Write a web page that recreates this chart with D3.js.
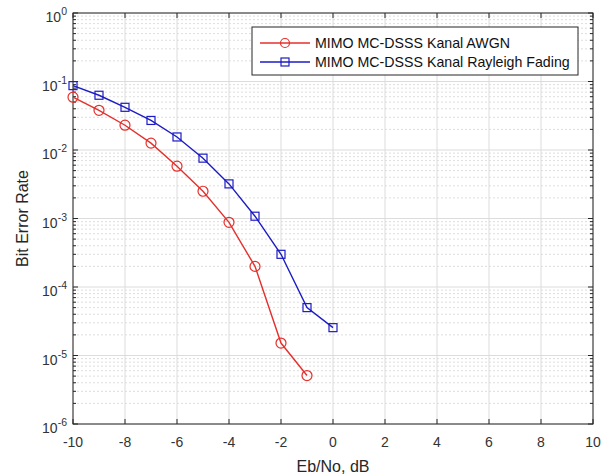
<!DOCTYPE html>
<html>
<head>
<meta charset="utf-8">
<script src="https://cdn.jsdelivr.net/npm/d3@7"></script>
<style>
  body { margin: 0; background: #fff; }
  text { font-family: "Liberation Sans", Arial, sans-serif; }
</style>
</head>
<body>
<svg id="chart" width="610" height="474"></svg>
<script>
// data
var ebnoAwgn = [-10, -9, -8, -7, -6, -5, -4, -3, -2, -1];
var berAwgn = [0.059, 0.038, 0.023, 0.0126, 0.0058, 0.0025, 0.00088, 0.0002, 0.0000152, 0.0000051];
var ebnoRayleigh = [-10, -9, -8, -7, -6, -5, -4, -3, -2, -1, 0];
var berRayleigh = [0.087, 0.063, 0.042, 0.027, 0.0155, 0.0076, 0.0032, 0.00108, 0.0003, 0.00005, 0.0000255];
var xTicks = [-10, -8, -6, -4, -2, 0, 2, 4, 6, 8, 10];
var yDecades = [0, -1, -2, -3, -4, -5, -6];
var legendLabels = ["MIMO MC-DSSS Kanal AWGN", "MIMO MC-DSSS Kanal Rayleigh Fading"];

var red = "#e4302c", blue = "#1c1cc4";
// note: "top" is taken by window.top, so plot edges get their own names
var pL = 73, pR = 593, pT = 13, pB = 424;

var svg = d3.select("#chart");

var x = d3.scaleLinear().domain([-10, 10]).range([pL, pR]);
var y = d3.scaleLog().domain([1e-6, 1]).range([pB, pT]);

// minor values inside each decade
var minors = [];
yDecades.slice(1).forEach(function(p) {
    for (var k = 2; k <= 9; k++) minors.push(k * Math.pow(10, p));
});

// grid
var grid = svg.append("g");
grid.selectAll(".minor").data(minors).enter().append("line")
    .attr("x1", pL).attr("x2", pR)
    .attr("y1", function(d) { return y(d); })
    .attr("y2", function(d) { return y(d); })
    .attr("stroke", "#d4d4d4").attr("stroke-width", 0.8)
    .attr("stroke-dasharray", "2,2");
grid.selectAll(".ymaj").data(yDecades).enter().append("line")
    .attr("x1", pL).attr("x2", pR)
    .attr("y1", function(d) { return y(Math.pow(10, d)); })
    .attr("y2", function(d) { return y(Math.pow(10, d)); })
    .attr("stroke", "#dcdcdc").attr("stroke-width", 1);
grid.selectAll(".xmaj").data(xTicks).enter().append("line")
    .attr("y1", pT).attr("y2", pB)
    .attr("x1", function(d) { return x(d); })
    .attr("x2", function(d) { return x(d); })
    .attr("stroke", "#dcdcdc").attr("stroke-width", 1);

// box + inner ticks
var axisColor = "#262626";
svg.append("rect").attr("x", pL).attr("y", pT)
    .attr("width", pR - pL).attr("height", pB - pT)
    .attr("fill", "none").attr("stroke", axisColor).attr("stroke-width", 1);

var ticks = svg.append("g").attr("stroke", axisColor).attr("stroke-width", 1);
xTicks.forEach(function(d) {
    ticks.append("line").attr("x1", x(d)).attr("x2", x(d)).attr("y1", pB).attr("y2", pB - 5);
    ticks.append("line").attr("x1", x(d)).attr("x2", x(d)).attr("y1", pT).attr("y2", pT + 5);
});
yDecades.forEach(function(p) {
    var yy = y(Math.pow(10, p));
    ticks.append("line").attr("x1", pL).attr("x2", pL + 5).attr("y1", yy).attr("y2", yy);
    ticks.append("line").attr("x1", pR).attr("x2", pR - 5).attr("y1", yy).attr("y2", yy);
});
minors.forEach(function(d) {
    ticks.append("line").attr("x1", pL).attr("x2", pL + 3).attr("y1", y(d)).attr("y2", y(d));
    ticks.append("line").attr("x1", pR).attr("x2", pR - 3).attr("y1", y(d)).attr("y2", y(d));
});

// tick labels
svg.append("g").selectAll("text").data(xTicks).enter().append("text")
    .attr("x", function(d) { return x(d); })
    .attr("y", pB + 23)
    .attr("text-anchor", "middle")
    .attr("font-size", 14).attr("fill", "#333")
    .text(function(d) { return d; });

var yl = svg.append("g").selectAll("text").data(yDecades).enter().append("text")
    .attr("x", pL - 6)
    .attr("y", function(d) { return y(Math.pow(10, d)) + 9; })
    .attr("text-anchor", "end")
    .attr("font-size", 14).attr("fill", "#333");
yl.append("tspan").text("10");
yl.append("tspan").attr("dy", -7).attr("font-size", 10.5).text(function(d) { return d; });

// axis titles
svg.append("text").attr("x", (pL + pR) / 2).attr("y", 472)
    .attr("text-anchor", "middle").attr("font-size", 16).attr("fill", "#262626")
    .text("Eb/No, dB");
svg.append("text")
    .attr("transform", "translate(28," + ((pT + pB) / 2) + ") rotate(-90)")
    .attr("text-anchor", "middle").attr("font-size", 16).attr("fill", "#262626")
    .text("Bit Error Rate");

// series
var line = d3.line()
    .x(function(d) { return x(d[0]); })
    .y(function(d) { return y(d[1]); });

var awgn = d3.zip(ebnoAwgn, berAwgn);
var rayleigh = d3.zip(ebnoRayleigh, berRayleigh);

svg.append("path").datum(awgn).attr("d", line)
    .attr("fill", "none").attr("stroke", red).attr("stroke-width", 1.4);
svg.append("g").selectAll("circle").data(awgn).enter().append("circle")
    .attr("cx", function(d) { return x(d[0]); })
    .attr("cy", function(d) { return y(d[1]); })
    .attr("r", 5).attr("fill", "none").attr("stroke", red).attr("stroke-width", 1.2);

svg.append("path").datum(rayleigh).attr("d", line)
    .attr("fill", "none").attr("stroke", blue).attr("stroke-width", 1.4);
svg.append("g").selectAll("rect").data(rayleigh).enter().append("rect")
    .attr("x", function(d) { return x(d[0]) - 4; })
    .attr("y", function(d) { return y(d[1]) - 4; })
    .attr("width", 8).attr("height", 8)
    .attr("fill", "none").attr("stroke", blue).attr("stroke-width", 1.2);

// legend
var lg = svg.append("g");
lg.append("rect").attr("x", 252).attr("y", 27).attr("width", 326).attr("height", 48)
    .attr("fill", "#fff").attr("stroke", axisColor).attr("stroke-width", 1);
[red, blue].forEach(function(c, i) {
    var ly = 43 + i * 19;
    lg.append("line").attr("x1", 260).attr("x2", 310).attr("y1", ly).attr("y2", ly)
        .attr("stroke", c).attr("stroke-width", 1.4);
    if (i == 0) {
        lg.append("circle").attr("cx", 285).attr("cy", ly).attr("r", 4.5)
            .attr("fill", "none").attr("stroke", c).attr("stroke-width", 1.2);
    } else {
        lg.append("rect").attr("x", 281).attr("y", ly - 4).attr("width", 8).attr("height", 8)
            .attr("fill", "none").attr("stroke", c).attr("stroke-width", 1.2);
    }
    lg.append("text").attr("x", 315).attr("y", ly + 5)
        .attr("font-size", 14.2).attr("fill", "#111")
        .text(legendLabels[i]);
});
</script>
</body>
</html>
